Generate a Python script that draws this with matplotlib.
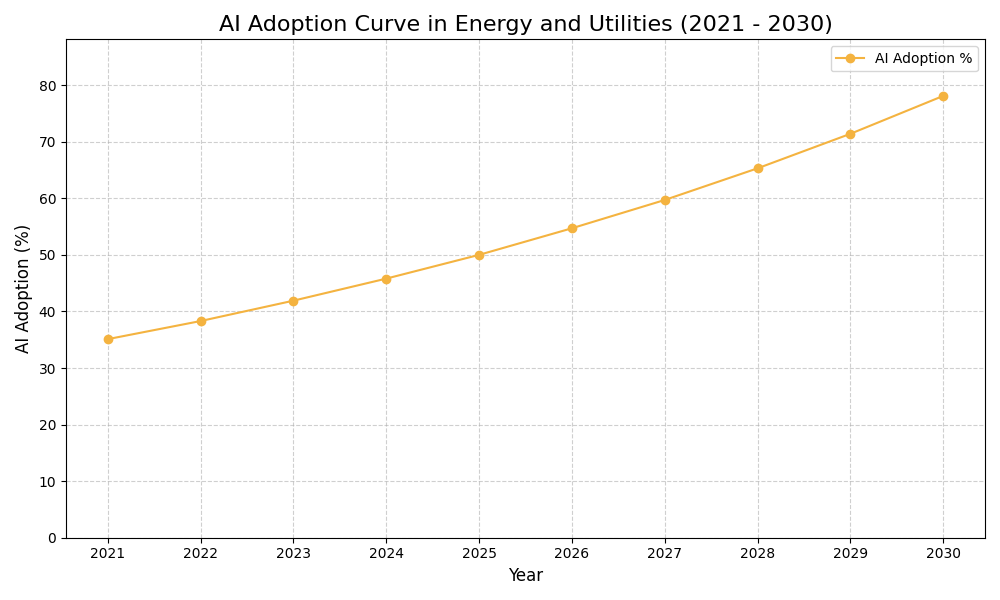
import matplotlib
matplotlib.use("Agg")
import matplotlib.pyplot as plt

years = [2021, 2022, 2023, 2024, 2025, 2026, 2027, 2028, 2029, 2030]
adoption = [35.1, 38.3, 41.9, 45.8, 50.0, 54.7, 59.7, 65.3, 71.4, 78.1]

fig, ax = plt.subplots(figsize=(10, 6), dpi=100)
ax.plot(years, adoption, marker='o', color='#F4B340', label='AI Adoption %')

ax.set_title('AI Adoption Curve in Energy and Utilities (2021 - 2030)', fontsize=16)
ax.set_xlabel('Year', fontsize=12)
ax.set_ylabel('AI Adoption (%)', fontsize=12)
ax.set_xticks(years)
ax.set_ylim(0, 88.1)
ax.grid(True, linestyle='--', alpha=0.6)
ax.legend(loc='upper right')

plt.tight_layout()
plt.savefig('out.png')
